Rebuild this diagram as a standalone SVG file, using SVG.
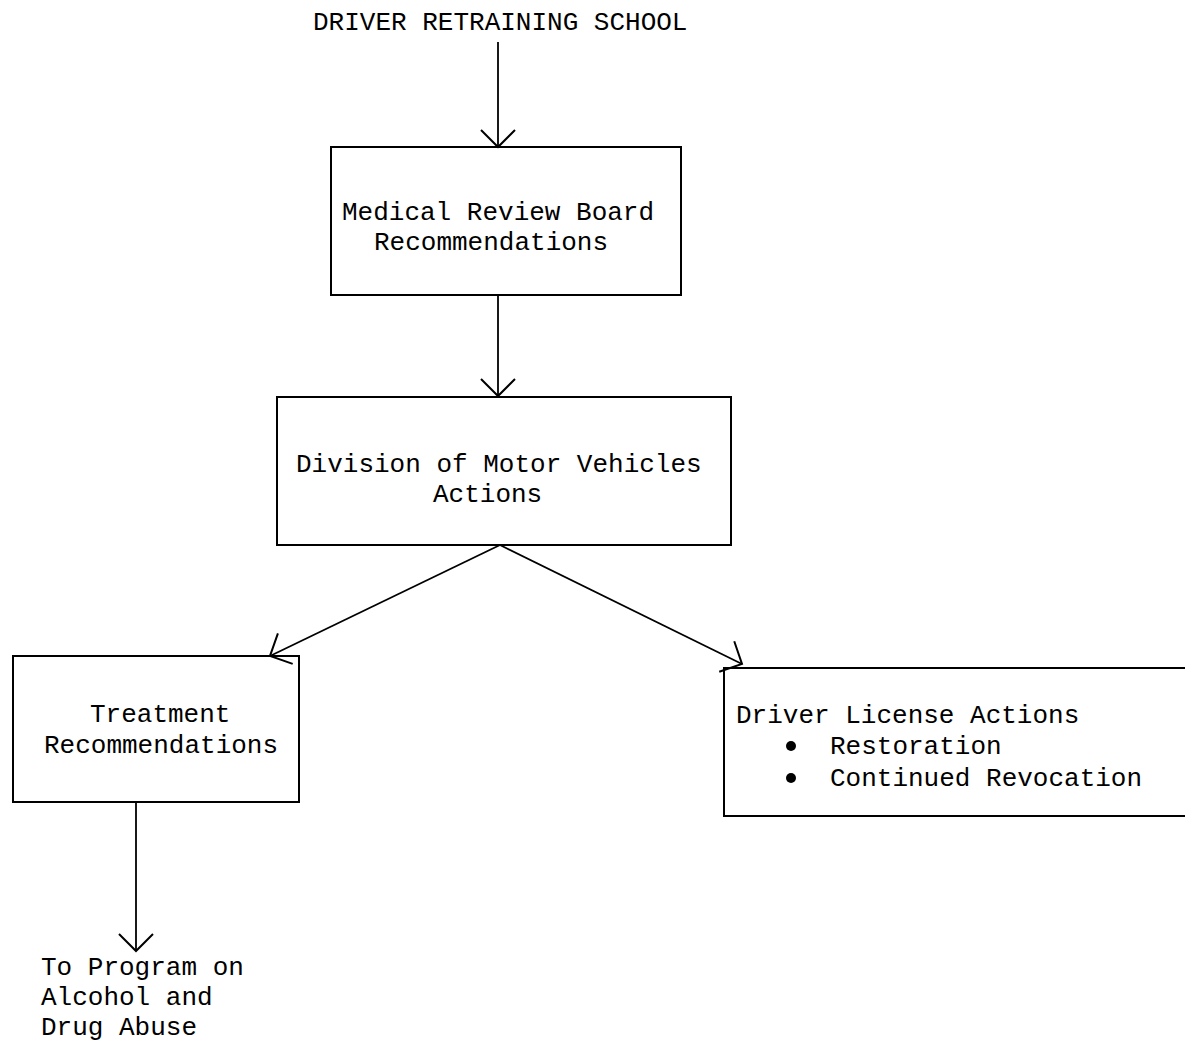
<svg xmlns="http://www.w3.org/2000/svg" width="1185" height="1043" viewBox="0 0 1185 1043">
  <style>
    .box { fill: none; stroke: #000; stroke-width: 2; }
    .edge { fill: none; stroke: #000; stroke-width: 1.8; }
    text { font-family: "Liberation Mono", "Courier New", monospace; font-size: 26px; fill: #000; }
  </style>
  <defs>
    <marker id="vhead" markerUnits="userSpaceOnUse" markerWidth="40" markerHeight="40" viewBox="-20 -20 40 40" refX="0" refY="0" orient="auto">
      <path d="M-17,-17 L0,0 L-17,17" fill="none" stroke="#000" stroke-width="2"/>
    </marker>
  </defs>
  <rect width="1185" height="1043" fill="#fff"/>

  <g id="title">
    <text x="313" y="30">DRIVER RETRAINING SCHOOL</text>
  </g>

  <g id="connectors">
    <path class="edge" d="M498,42 L498,147" marker-end="url(#vhead)"/>
    <path class="edge" d="M498,295 L498,396" marker-end="url(#vhead)"/>
    <path class="edge" d="M500,545 L270,656" marker-end="url(#vhead)"/>
    <path class="edge" d="M500,545 L742,664" marker-end="url(#vhead)"/>
    <path class="edge" d="M136,802 L136,951" marker-end="url(#vhead)"/>
  </g>

  <g id="medical-review">
    <rect class="box" x="331" y="147" width="350" height="148"/>
    <text x="342" y="220">Medical Review Board</text>
    <text x="374" y="250">Recommendations</text>
  </g>

  <g id="dmv-actions">
    <rect class="box" x="277" y="397" width="454" height="148"/>
    <text x="296" y="472">Division of Motor Vehicles</text>
    <text x="433" y="502">Actions</text>
  </g>

  <g id="treatment">
    <rect class="box" x="13" y="656" width="286" height="146"/>
    <text x="90" y="722">Treatment</text>
    <text x="44" y="753">Recommendations</text>
  </g>

  <g id="license-actions">
    <rect class="box" x="724" y="668" width="470" height="148"/>
    <text x="736" y="723">Driver License Actions</text>
    <circle cx="791" cy="746" r="5"/>
    <text x="830" y="754">Restoration</text>
    <circle cx="791" cy="778" r="5"/>
    <text x="830" y="786">Continued Revocation</text>
  </g>

  <g id="program-referral">
    <text x="41" y="975">To Program on</text>
    <text x="41" y="1005">Alcohol and</text>
    <text x="41" y="1035">Drug Abuse</text>
  </g>
</svg>
